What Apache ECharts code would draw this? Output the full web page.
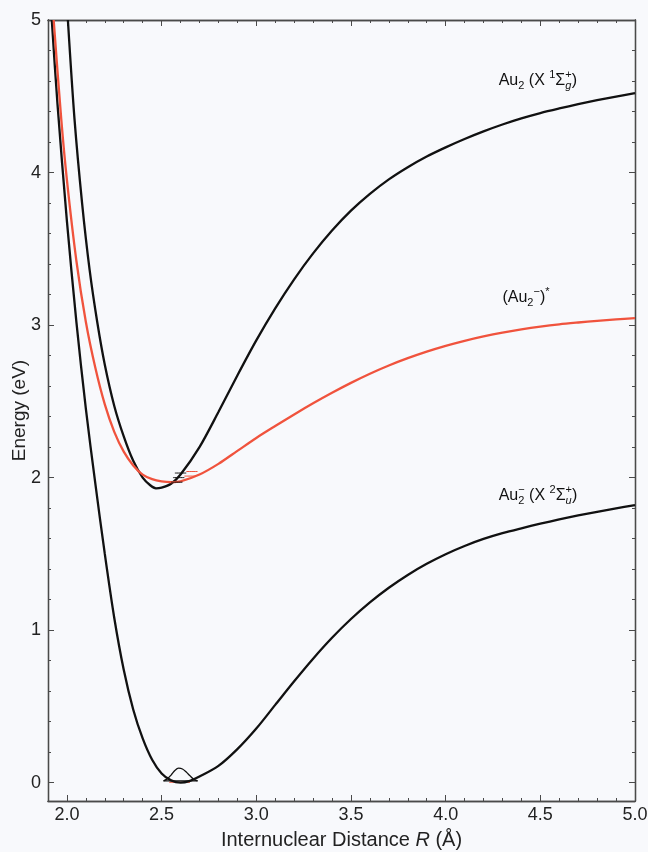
<!DOCTYPE html>
<html>
<head>
<meta charset="UTF-8">
<title>Au2 potential energy curves</title>
<script src="https://cdn.jsdelivr.net/npm/echarts@6.0.0/dist/echarts.min.js"></script>
<style>
    html, body { margin: 0; padding: 0; background: #f8f9fc; }
    #main { width: 648px; height: 852px; }
</style>
</head>
<body>
<div id="main"></div>
<script>
    // values: R in angstrom, energy in eV
    var neutralR = [2.005, 2.04, 2.08, 2.12, 2.16, 2.2, 2.25, 2.3, 2.35, 2.4, 2.44, 2.47, 2.5, 2.55, 2.6, 2.7, 2.8, 2.9, 3.0, 3.1, 3.2, 3.3, 3.4, 3.5, 3.6, 3.7, 3.8, 3.9, 4.0, 4.1, 4.2, 4.3, 4.4, 4.5, 4.6, 4.7, 4.8, 4.9, 5.0];
    var neutralE = [5.0, 4.35, 3.8, 3.36, 3.02, 2.74, 2.47, 2.27, 2.11, 2.0, 1.95, 1.93, 1.935, 1.96, 2.02, 2.2, 2.43, 2.67, 2.9, 3.11, 3.3, 3.47, 3.62, 3.75, 3.86, 3.955, 4.035, 4.105, 4.165, 4.22, 4.27, 4.315, 4.355, 4.39, 4.42, 4.448, 4.474, 4.498, 4.52];

    var excitedR = [1.93, 1.97, 2.0, 2.05, 2.1, 2.15, 2.2, 2.25, 2.3, 2.35, 2.4, 2.45, 2.5, 2.55, 2.6, 2.7, 2.8, 2.9, 3.0, 3.1, 3.2, 3.3, 3.4, 3.5, 3.6, 3.7, 3.8, 3.9, 4.0, 4.1, 4.2, 4.3, 4.4, 4.5, 4.6, 4.7, 4.8, 4.9, 5.0];
    var excitedE = [5.0, 4.35, 3.95, 3.42, 3.02, 2.72, 2.48, 2.3, 2.17, 2.08, 2.02, 1.99, 1.975, 1.97, 1.975, 2.02, 2.09, 2.175, 2.26, 2.338, 2.414, 2.487, 2.556, 2.621, 2.681, 2.735, 2.783, 2.826, 2.864, 2.897, 2.926, 2.951, 2.972, 2.99, 3.005, 3.017, 3.028, 3.037, 3.045];

    var anionR = [1.92, 1.95, 2.0, 2.05, 2.1, 2.15, 2.2, 2.25, 2.3, 2.35, 2.4, 2.45, 2.5, 2.55, 2.6, 2.65, 2.7, 2.8, 2.9, 3.0, 3.1, 3.2, 3.3, 3.4, 3.5, 3.6, 3.7, 3.8, 3.9, 4.0, 4.1, 4.2, 4.3, 4.4, 4.5, 4.6, 4.7, 4.8, 4.9, 5.0];
    var anionE = [5.0, 4.45, 3.68, 3.02, 2.45, 1.96, 1.5, 1.08, 0.74, 0.48, 0.29, 0.15, 0.06, 0.015, 0.0, 0.012, 0.04, 0.11, 0.22, 0.355, 0.51, 0.665, 0.813, 0.95, 1.073, 1.182, 1.278, 1.362, 1.435, 1.498, 1.552, 1.598, 1.636, 1.668, 1.698, 1.726, 1.752, 1.776, 1.798, 1.82];

    // v=0 wavefunction of the anion and its level
    var waveR = [2.51, 2.53, 2.55, 2.57, 2.59, 2.61, 2.63, 2.65, 2.67, 2.69];
    var waveE = [0.012, 0.025, 0.05, 0.08, 0.095, 0.09, 0.07, 0.045, 0.022, 0.012];
    var levelR = [2.51, 2.69];
    var levelE = [0.012, 0.012];
    var redLevelR = [2.54, 2.65];
    var redLevelE = [0.003, 0.003];

    // short vibrational levels near the upper minima
    var neutralLevelsE = [1.97, 2.0, 2.03];
    var neutralLevelsR = [[2.55, 2.61], [2.56, 2.62], [2.57, 2.63]];
    var excitedLevelsE = [2.01, 2.04];
    var excitedLevelsR = [[2.62, 2.68], [2.63, 2.69]];

    var xLabels = [2.0, 2.5, 3.0, 3.5, 4.0, 4.5, 5.0];
    var xMinor = [2.1, 2.2, 2.3, 2.4, 2.6, 2.7, 2.8, 2.9, 3.1, 3.2, 3.3, 3.4, 3.6, 3.7, 3.8, 3.9, 4.1, 4.2, 4.3, 4.4, 4.6, 4.7, 4.8, 4.9];
    var yLabels = [0, 1, 2, 3, 4, 5];
    var yMinor = [0.2, 0.4, 0.6, 0.8, 1.2, 1.4, 1.6, 1.8, 2.2, 2.4, 2.6, 2.8, 3.2, 3.4, 3.6, 3.8, 4.2, 4.4, 4.6, 4.8];

    function zip(a, b) {
        var out = [];
        for (var i = 0; i < a.length; i++) out.push([a[i], b[i]]);
        return out;
    }

    var FONT = 'Liberation Sans, Arial, sans-serif';
    var AXIS_COLOR = '#4a4a4a';
    var BLACK = '#111';
    var RED = '#f0533d';

    function xAxisOf(pos, withLabels, ticks, len) {
        return {
            type: 'value', position: pos, min: 1.9, max: 5.0,
            axisLine: {show: true, onZero: false, lineStyle: {color: AXIS_COLOR, width: 1.3}},
            axisTick: {show: true, inside: true, length: len, customValues: ticks, lineStyle: {color: AXIS_COLOR}},
            axisLabel: {show: withLabels, customValues: xLabels, margin: 5, fontSize: 18, fontFamily: FONT, color: '#222',
                formatter: function (v) { return v.toFixed(1); }},
            splitLine: {show: false},
            name: withLabels ? 'Internuclear Distance {i|R} (Å)' : '',
            nameLocation: 'middle', nameGap: 29, nameMoveOverlap: false,
            nameTextStyle: {fontSize: 20, fontFamily: FONT, color: '#222',
                rich: {i: {fontStyle: 'italic', fontSize: 20, fontFamily: FONT, color: '#222'}}}
        };
    }

    function yAxisOf(pos, withLabels, ticks, len) {
        return {
            type: 'value', position: pos, min: -0.12, max: 5,
            axisLine: {show: true, onZero: false, lineStyle: {color: AXIS_COLOR, width: 1.3}},
            axisTick: {show: true, inside: true, length: len, customValues: ticks, lineStyle: {color: AXIS_COLOR}},
            axisLabel: {show: withLabels, customValues: yLabels, margin: 7, fontSize: 18, fontFamily: FONT, color: '#222'},
            splitLine: {show: false},
            name: withLabels ? 'Energy (eV)' : '',
            nameLocation: 'middle', nameGap: 19, nameRotate: 90, nameMoveOverlap: false,
            nameTextStyle: {fontSize: 19, fontFamily: 'Liberation Sans Narrow, ' + FONT, color: '#222'}
        };
    }

    function lineSeries(data, color, width) {
        return {
            type: 'line', data: data, xAxisIndex: 0, yAxisIndex: 0,
            showSymbol: false, smooth: 0.3,
            lineStyle: {color: color, width: width}, silent: true, clip: true
        };
    }

    var series = [
        lineSeries(zip(redLevelR, redLevelE), RED, 1.2),
        lineSeries(zip(anionR, anionE), BLACK, 2.3),
        lineSeries(zip(neutralR, neutralE), BLACK, 2.3),
        lineSeries(zip(excitedR, excitedE), RED, 2.3),
        lineSeries(zip(waveR, waveE), BLACK, 1.3),
        lineSeries(zip(levelR, levelE), BLACK, 1.2)
    ];
    neutralLevelsE.forEach(function (e, i) {
        series.push(lineSeries(zip(neutralLevelsR[i], [e, e]), BLACK, 1));
    });
    excitedLevelsE.forEach(function (e, i) {
        series.push(lineSeries(zip(excitedLevelsR[i], [e, e]), RED, 1));
    });

    var chart = echarts.init(document.getElementById('main'), null, {renderer: 'canvas'});
    chart.setOption({
        backgroundColor: '#f8f9fc',
        animation: false,
        grid: {left: 48, right: 13, top: 20, bottom: 51, outerBoundsMode: 'none', containLabel: false},
        xAxis: [
            xAxisOf('bottom', true, xLabels, 6),
            xAxisOf('top', false, xLabels, 6),
            xAxisOf('bottom', false, xMinor, 3),
            xAxisOf('top', false, xMinor, 3)
        ],
        yAxis: [
            yAxisOf('left', true, yLabels, 6),
            yAxisOf('right', false, yLabels, 6),
            yAxisOf('left', false, yMinor, 3),
            yAxisOf('right', false, yMinor, 3)
        ],
        series: series
    });

    // curve labels with sub/superscripts, laid out piece by piece
    var ctx = document.createElement('canvas').getContext('2d');
    var STYLE = {
        n: {size: 16, dy: 0, italic: false},
        sub: {size: 11, dy: 5, italic: false},
        sup: {size: 11, dy: -6, italic: false},
        subi: {size: 11, dy: 5, italic: true}
    };
    function fontOf(s) { return (s.italic ? 'italic ' : '') + s.size + 'px ' + FONT; }

    // each piece: [text, style, stackedOnPrevious]
    var curveLabels = [
        {at: [4.28, 4.6], parts: [['Au', 'n'], ['2', 'sub'], [' (X ', 'n'], ['1', 'sup'], ['Σ', 'n'], ['+', 'sup'], ['g', 'subi', true], [')', 'n']]},
        {at: [4.30, 3.18], parts: [['(Au', 'n'], ['2', 'sub'], ['−', 'sup'], [')', 'n'], ['*', 'sup']]},
        {at: [4.28, 1.88], parts: [['Au', 'n'], ['−', 'sup'], ['2', 'sub', true], [' (X ', 'n'], ['2', 'sup'], ['Σ', 'n'], ['+', 'sup'], ['u', 'subi', true], [')', 'n']]}
    ];

    var elements = [];
    curveLabels.forEach(function (lab) {
        var p = chart.convertToPixel({xAxisIndex: 0, yAxisIndex: 0}, lab.at);
        var x = p[0], lastX = x, lastW = 0;
        lab.parts.forEach(function (part) {
            var s = STYLE[part[1]];
            ctx.font = fontOf(s);
            var w = ctx.measureText(part[0]).width;
            var px;
            if (part[2]) {
                px = lastX;
                x = lastX + Math.max(lastW, w);
            } else {
                px = x;
                lastX = x;
                lastW = w;
                x += w;
            }
            elements.push({
                type: 'text', x: px, y: p[1] + s.dy, silent: true,
                style: {text: part[0], font: fontOf(s), fill: '#111', align: 'left', verticalAlign: 'middle'}
            });
        });
    });
    chart.setOption({graphic: elements});
</script>
</body>
</html>
